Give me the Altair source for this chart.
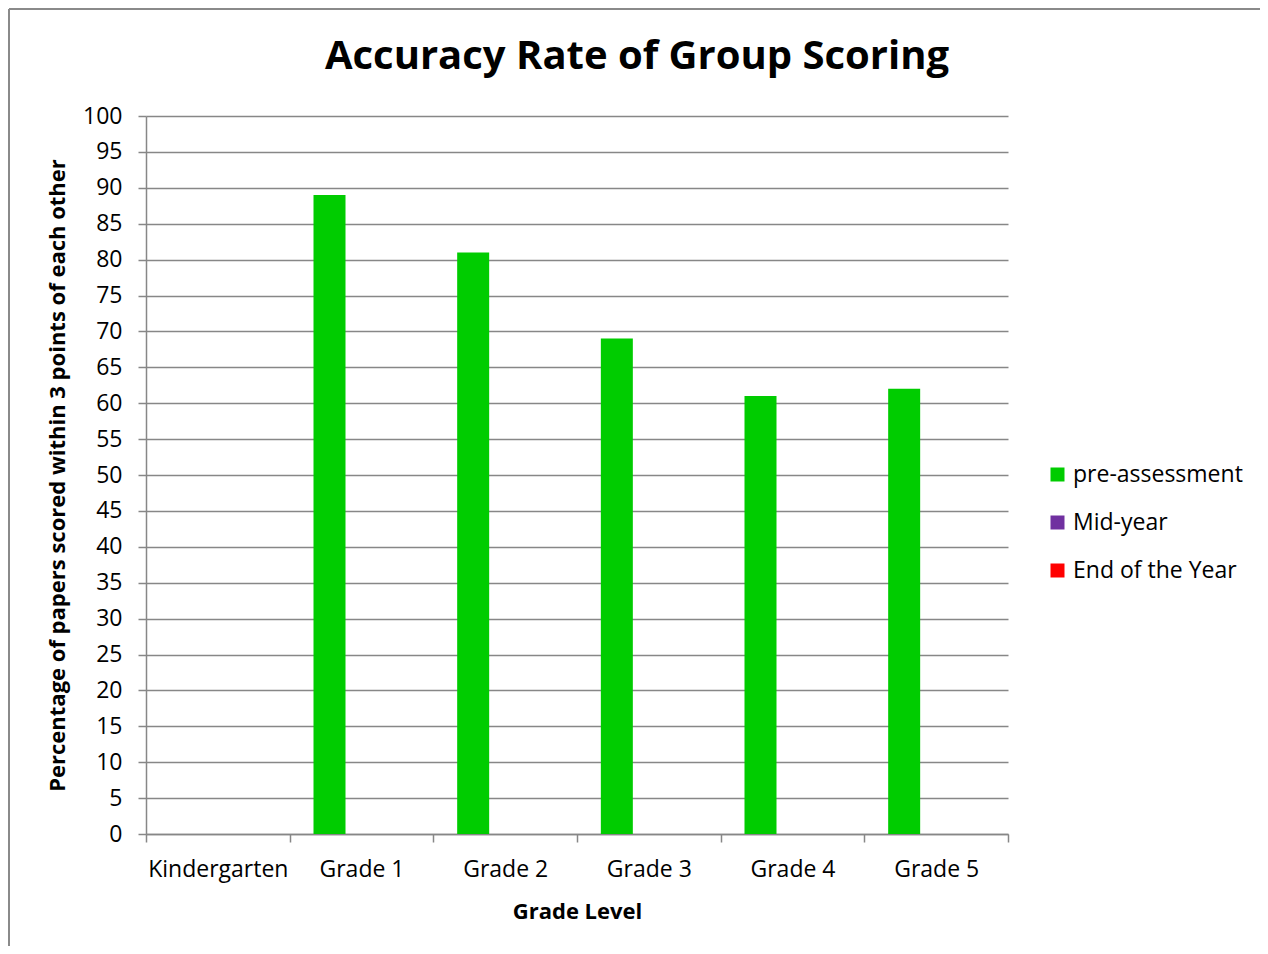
import altair as alt
import pandas as pd

grades = ["Kindergarten", "Grade 1", "Grade 2", "Grade 3", "Grade 4", "Grade 5"]
series = ["pre-assessment", "Mid-year", "End of the Year"]
colors = ["#00CC00", "#7030A0", "#FF0000"]
pre_assessment = [None, 89, 81, 69, 61, 62]
mid_year = [None, None, None, None, None, None]
end_of_year = [None, None, None, None, None, None]
y_ticks = list(range(0, 101, 5))
title_text = ["Accuracy Rate of Group Scoring"]

rows = []
for s, vals in zip(series, [pre_assessment, mid_year, end_of_year]):
    for g, v in zip(grades, vals):
        rows.append({"Grade": g, "Series": s, "Value": v})
df = pd.DataFrame(rows)

FONT = "Open Sans"
GRAY = "#878787"
W, H = 862, 718

bars = alt.Chart(df).mark_bar(size=32).encode(
    x=alt.X("Grade:N", sort=grades,
            scale=alt.Scale(paddingInner=0, paddingOuter=0),
            axis=alt.Axis(title="Grade Level", tickBand="extent", labelAngle=0,
                          labelFontSize=23, labelFont=FONT, labelColor="#000",
                          labelPadding=16, tickSize=8, tickColor=GRAY, tickWidth=1.5,
                          domainColor=GRAY, domainWidth=1.5, grid=False,
                          titleFont=FONT, titleFontSize=22, titleFontWeight="bold",
                          titleColor="#000", titlePadding=20)),
    xOffset=alt.XOffset("Series:N", sort=series,
                        scale=alt.Scale(domain=series, paddingInner=0, paddingOuter=0.745)),
    y=alt.Y("Value:Q", scale=alt.Scale(domain=[0, 100], nice=False),
            axis=alt.Axis(title="Percentage of papers scored within 3 points of each other",
                          values=y_ticks, labelFontSize=23, labelFont=FONT, labelColor="#000",
                          labelPadding=16, tickSize=8, tickColor=GRAY, tickWidth=1.5,
                          domainColor=GRAY, domainWidth=1.5, grid=True, gridColor=GRAY,
                          gridWidth=1.5, titleFont=FONT, titleFontSize=22,
                          titleFontWeight="bold", titleColor="#000", titlePadding=13)),
    color=alt.Color("Series:N", sort=series,
                    scale=alt.Scale(domain=series, range=colors),
                    legend=alt.Legend(title=None, orient="none", legendX=900, legendY=347,
                                      symbolType="square", symbolSize=196, symbolStrokeWidth=0,
                                      labelFont=FONT, labelFontSize=23, labelColor="#000",
                                      labelLimit=400, rowPadding=24, labelOffset=4)),
)

title = alt.Chart(pd.DataFrame({"t": title_text})).mark_text(
    font=FONT, fontSize=40, fontWeight="bold", color="#000", align="center", baseline="alphabetic"
).encode(x=alt.value(491), y=alt.value(-47), text="t:N")

one = pd.DataFrame({"a": [0]})
frame = alt.Chart(one).mark_rule(color="#8a8a8a", strokeWidth=2).encode(
    x=alt.value(-137), x2=alt.value(1120), y=alt.value(-107), y2=alt.value(-107)
) + alt.Chart(one).mark_rule(color="#8a8a8a", strokeWidth=2).encode(
    x=alt.value(-137), x2=alt.value(-137), y=alt.value(-107), y2=alt.value(830)
)

chart = alt.layer(frame, bars, title).properties(
    width=W, height=H,
    autosize=alt.AutoSizeParams(type="none"),
    padding={"left": 138, "top": 108, "right": 252, "bottom": 112},
).configure_view(stroke=None)

chart.save("out.html", embed_options={"renderer": "svg", "actions": False})
